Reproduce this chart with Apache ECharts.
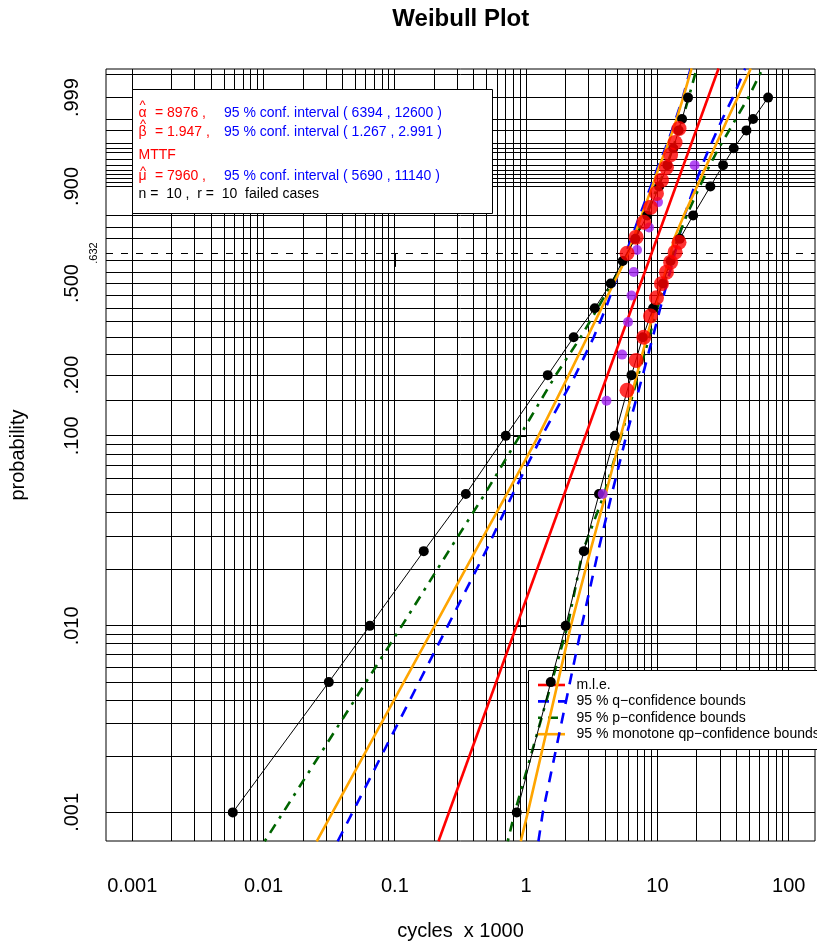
<!DOCTYPE html>
<html>
<head>
<meta charset="utf-8">
<title>Weibull Plot</title>
<script src="https://cdn.jsdelivr.net/npm/echarts@6.0.0/dist/echarts.min.js"></script>
<style>
  html, body { margin: 0; padding: 0; background: #fff; }
  #chart { width: 817px; height: 951px; }
</style>
</head>
<body>
<div id="chart"></div>
<script>
const FONT = '"Liberation Sans", Arial, Helvetica, sans-serif';

// axis ticks (cycles x 1000 / probability)
const xTickValues = [0.001, 0.01, 0.1, 1, 10, 100];
const xTickLabels = ['0.001', '0.01', '0.1', '1', '10', '100'];
const yTickValues = [0.001, 0.01, 0.1, 0.2, 0.5, 0.9, 0.99, 0.999];
const yTickLabels = ['.001', '.010', '.100', '.200', '.500', '.900', '', '.999'];

// grid lines
const xGridDecades = [0.001, 0.01, 0.1, 1, 10, 100];
const xGridSteps = [1, 2, 3, 4, 5, 6, 7, 8, 9];
const yGridProbs = [
  0.001, 0.002, 0.003, 0.004, 0.005, 0.006, 0.007, 0.008, 0.009,
  0.01, 0.02, 0.03, 0.04, 0.05, 0.06, 0.07, 0.08, 0.09,
  0.1, 0.15, 0.2, 0.25, 0.3, 0.35, 0.4, 0.45, 0.5, 0.55, 0.6,
  0.7, 0.75, 0.8, 0.9, 0.91, 0.92, 0.93, 0.94, 0.95, 0.96, 0.97,
  0.975, 0.98, 0.99, 0.995, 0.999, 0.9999
];
const charLifeProb = 0.632;

// failure data (purple)
const failCycles = [3.83, 4.09, 5.38, 5.97, 6.34, 6.60, 6.99, 8.63, 10.1, 19.2];
const failProbs = [0.05, 0.15, 0.25, 0.35, 0.45, 0.55, 0.65, 0.75, 0.85, 0.95];

// black point chains
const chainProbs = [0.001, 0.005, 0.01, 0.025, 0.05, 0.1, 0.2, 0.3, 0.4, 0.5, 0.6, 0.7, 0.8, 0.9, 0.95, 0.975, 0.99, 0.995, 0.999];
const chainLower = [0.00583, 0.0314, 0.0644, 0.166, 0.347, 0.699, 1.46, 2.30, 3.33, 4.41, 5.44, 6.78, 8.36, 10.3, 11.9, 13.2, 14.5, 15.4, 17.1];
const chainUpper = [0.848, 1.54, 2.00, 2.75, 3.59, 4.73, 6.34, 7.73, 9.26, 11.0, 12.6, 14.8, 18.7, 25.3, 31.6, 38.1, 47.6, 53.5, 69.6];

// red points
const redCycles = [5.87, 6.88, 7.87, 8.85, 9.83, 10.73, 11.71, 12.6, 13.63, 14.60];
const redProbsHigh = [0.635, 0.7075, 0.772, 0.831, 0.879, 0.917, 0.9455, 0.967, 0.981, 0.991];
const redProbsLow = [0.169, 0.235, 0.300, 0.371, 0.441, 0.499, 0.5495, 0.5945, 0.640, 0.685];

// m.l.e. line
const mleProbs = [0.0007, 0.99995];
const mleCycles = [0.215, 29.2];

// confidence bounds
const boundProbs = [0.0007, 0.001, 0.01, 0.025, 0.05, 0.1, 0.2, 0.3, 0.4, 0.5, 0.6, 0.7, 0.8, 0.9, 0.95, 0.975, 0.99, 0.995, 0.999, 0.99995];
const qLower = [0.0367, 0.0476, 0.253, 0.493, 0.790, 1.32, 2.37, 3.27, 4.04, 4.73, 5.44, 6.32, 7.33, 8.89, 10.2, 11.5, 12.9, 13.8, 15.6, 17.9];
const qUpper = [1.24, 1.34, 2.65, 3.54, 4.49, 5.79, 7.73, 9.21, 10.5, 11.8, 13.1, 14.5, 16.1, 19.1, 21.9, 24.8, 28.5, 31.2, 37.5, 46.6];
const pLower = [0.0102, 0.0141, 0.113, 0.257, 0.484, 0.894, 1.68, 2.60, 3.51, 4.49, 5.54, 6.72, 8.14, 10.1, 11.8, 13.1, 14.5, 15.5, 17.3, 19.9];
const pUpper = [0.724, 0.819, 2.07, 2.70, 3.93, 5.30, 7.14, 8.66, 9.97, 11.3, 12.6, 14.2, 16.7, 21.0, 25.0, 29.3, 35.2, 39.5, 49.2, 63.4];
const qpLower = [0.0254, 0.0335, 0.201, 0.410, 0.712, 1.24, 2.11, 2.92, 3.75, 4.64, 5.64, 6.54, 7.59, 9.13, 10.4, 11.7, 13.1, 14.0, 15.7, 18.2];
const qpUpper = [0.910, 1.03, 2.19, 3.08, 4.04, 5.25, 6.96, 8.29, 9.54, 10.8, 12.2, 13.4, 15.9, 20.0, 23.7, 27.1, 31.3, 34.2, 40.8, 51.4];

const legendLabels = ['m.l.e.', '95 % q\u2212confidence bounds', '95 % p\u2212confidence bounds', '95 % monotone qp\u2212confidence bounds'];

// weibull paper transforms
const tx = c => Math.log10(c);
const ty = p => Math.log(-Math.log(1 - p));
const pts = (xs, ps) => xs.map((c, i) => [tx(c), ty(ps[i])]);

const xLim = [tx(0.001), tx(100)];
const yLim = [ty(0.001), ty(0.999)];
const xPad = (xLim[1] - xLim[0]) * 0.04;
const yPad = (yLim[1] - yLim[0]) * 0.04;
const xMin = xLim[0] - xPad, xMax = xLim[1] + xPad;
const yMin = yLim[0] - yPad, yMax = yLim[1] + yPad;

const COL = { red: '#ff0000', blue: '#0000ff', green: '#006400', orange: '#ffa500', purple: '#a020f0' };
const DASH = [11, 9];
const DOTDASH = [3, 7, 10, 7];

// [x, y, kind]: kind 0 = vertical, 1 = horizontal, 2 = dashed horizontal
let gridData = [];
xGridDecades.forEach(d => xGridSteps.forEach(k => {
  const v = tx(k * d);
  if (v <= xMax) gridData.push([v, yMin, 0]);
}));
yGridProbs.forEach(p => gridData.push([xMin, ty(p), 1]));
gridData.push([xMin, ty(charLifeProb), 2]);

function crisp(v) { return Math.round(v - 0.5) + 0.5; }

function lineSeries(name, data, color, type, z) {
  return {
    name: name, type: 'line', data: data, z: z, symbol: 'none', silent: true,
    lineStyle: { color: color, width: 2.6, type: type, cap: 'butt' }
  };
}

let myChart = echarts.init(document.getElementById('chart'), null, { renderer: 'canvas' });

const legendY0 = 685, legendDy = 16.4;
const legendStyles = [
  { color: COL.red, dash: null },
  { color: COL.blue, dash: DASH },
  { color: COL.green, dash: DOTDASH },
  { color: COL.orange, dash: null }
];
let legendEls = [{
  type: 'rect', z: 3, shape: { x: 528.5, y: 670.5, width: 300, height: 79 },
  style: { fill: '#fff', stroke: '#000', lineWidth: 1 }
}];
legendStyles.forEach((s, i) => {
  const y = legendY0 + i * legendDy;
  legendEls.push({
    type: 'line', z: 3, shape: { x1: 538, y1: y, x2: 565, y2: y },
    style: { stroke: s.color, lineWidth: 2.6, lineDash: s.dash }
  });
  legendEls.push({
    type: 'text', z: 3, x: 576.5, y: y,
    style: { text: legendLabels[i], font: '14px ' + FONT, fill: '#000', textAlign: 'left', textVerticalAlign: 'middle' }
  });
});

function txt(x, y, text, color) {
  return {
    type: 'text', z: 11, x: x, y: y,
    style: { text: text, font: '14px ' + FONT, fill: color, textAlign: 'left', textVerticalAlign: 'middle' }
  };
}
function hat(x, y) {
  return {
    type: 'text', z: 11, x: x, y: y,
    style: { text: '^', font: '13px ' + FONT, fill: COL.red, textAlign: 'center', textVerticalAlign: 'top' }
  };
}

const infoEls = [
  { type: 'rect', z: 10, shape: { x: 132.5, y: 89.5, width: 360, height: 124 }, style: { fill: '#fff', stroke: '#000', lineWidth: 1 } },
  txt(138.5, 113.4, '\u03b1', COL.red), hat(142.5, 99.2),
  txt(155, 113.4, '= 8976 ,', COL.red),
  txt(224, 113.4, '95 % conf. interval ( 6394 , 12600 )', COL.blue),
  txt(138.5, 131.8, '\u03b2', COL.red), hat(143, 117.5),
  txt(155, 131.8, '= 1.947 ,', COL.red),
  txt(224, 131.8, '95 % conf. interval ( 1.267 , 2.991 )', COL.blue),
  txt(138.5, 155.1, 'MTTF', COL.red),
  txt(138.5, 175.8, '\u03bc', COL.red), hat(143, 164.8),
  txt(155, 175.8, '= 7960 ,', COL.red),
  txt(224, 175.8, '95 % conf. interval ( 5690 , 11140 )', COL.blue),
  txt(138.5, 194.4, 'n =  10 ,  r =  10  failed cases', '#000')
];

const option = {
  animation: false,
  backgroundColor: '#fff',
  textStyle: { fontFamily: FONT },
  grid: { left: 106, right: 2, top: 69, bottom: 110, show: true, borderColor: '#000', borderWidth: 1, backgroundColor: 'transparent' },
  xAxis: {
    type: 'value', min: xMin, max: xMax,
    splitLine: { show: false }, axisLine: { show: false },
    axisTick: { show: true, length: 13, customValues: xTickValues.map(tx), lineStyle: { color: '#000', width: 1 } },
    axisLabel: {
      customValues: xTickValues.map(tx), margin: 35, fontSize: 20, color: '#000', fontFamily: FONT,
      formatter: v => xTickLabels[xTickValues.findIndex(t => Math.abs(tx(t) - v) < 1e-6)]
    },
    name: 'cycles  x 1000', nameLocation: 'middle', nameGap: 80,
    nameTextStyle: { fontSize: 20, color: '#000', fontFamily: FONT }
  },
  yAxis: {
    type: 'value', min: yMin, max: yMax,
    splitLine: { show: false }, axisLine: { show: false },
    axisTick: { show: true, length: 13, customValues: yTickValues.map(ty), lineStyle: { color: '#000', width: 1 } },
    axisLabel: {
      customValues: yTickValues.map(ty), rotate: 90, margin: 24, fontSize: 20, color: '#000', fontFamily: FONT,
      formatter: v => yTickLabels[yTickValues.findIndex(t => Math.abs(ty(t) - v) < 1e-6)]
    },
    name: 'probability', nameLocation: 'middle', nameGap: 78, nameRotate: 90,
    nameTextStyle: { fontSize: 20, color: '#000', fontFamily: FONT }
  },
  graphic: [
    { type: 'text', z: 11, x: 460.8, y: 19, style: { text: 'Weibull Plot', font: 'bold 24px ' + FONT, fill: '#000', textAlign: 'center', textVerticalAlign: 'middle' } },
    { type: 'text', z: 11, x: 93.5, y: 253, rotation: Math.PI / 2, style: { text: '.632', font: '11px ' + FONT, fill: '#000', textAlign: 'center', textVerticalAlign: 'middle' } }
  ].concat(legendEls, infoEls),
  series: [
    {
      type: 'custom', z: 1, silent: true, data: gridData,
      renderItem: function (params, api) {
        const cs = params.coordSys;
        const kind = api.value(2);
        if (kind === 0) {
          const x = crisp(api.coord([api.value(0), yMin])[0]);
          return { type: 'line', shape: { x1: x, y1: cs.y, x2: x, y2: cs.y + cs.height }, style: { stroke: '#000', lineWidth: 1 } };
        }
        const y = crisp(api.coord([xMin, api.value(1)])[1]);
        return {
          type: 'line', shape: { x1: cs.x, y1: y, x2: cs.x + cs.width, y2: y },
          style: { stroke: '#000', lineWidth: 1, lineDash: kind === 2 ? [7, 8] : null }
        };
      }
    },
    lineSeries('q-lower', pts(qLower, boundProbs), COL.blue, DASH, 5),
    lineSeries('q-upper', pts(qUpper, boundProbs), COL.blue, DASH, 5),
    lineSeries('p-lower', pts(pLower, boundProbs), COL.green, DOTDASH, 5),
    lineSeries('p-upper', pts(pUpper, boundProbs), COL.green, DOTDASH, 5),
    lineSeries('qp-lower', pts(qpLower, boundProbs), COL.orange, 'solid', 5),
    lineSeries('qp-upper', pts(qpUpper, boundProbs), COL.orange, 'solid', 5),
    lineSeries('mle', pts(mleCycles, mleProbs), COL.red, 'solid', 6),
    {
      name: 'chain-lower', type: 'line', z: 7, data: pts(chainLower, chainProbs), silent: true,
      symbol: 'circle', symbolSize: 10, showAllSymbol: true,
      itemStyle: { color: '#000' }, lineStyle: { color: '#000', width: 1 }
    },
    {
      name: 'chain-upper', type: 'line', z: 7, data: pts(chainUpper, chainProbs), silent: true,
      symbol: 'circle', symbolSize: 10, showAllSymbol: true,
      itemStyle: { color: '#000' }, lineStyle: { color: '#000', width: 1 }
    },
    {
      name: 'failures', type: 'scatter', z: 8, data: pts(failCycles, failProbs), silent: true,
      symbol: 'circle', symbolSize: 10, itemStyle: { color: COL.purple }
    },
    {
      name: 'red-high', type: 'scatter', z: 9, data: pts(redCycles, redProbsHigh), silent: true,
      symbol: 'circle', symbolSize: 15, itemStyle: { color: COL.red }
    },
    {
      name: 'red-low', type: 'scatter', z: 9, data: pts(redCycles, redProbsLow), silent: true,
      symbol: 'circle', symbolSize: 15, itemStyle: { color: COL.red }
    }
  ]
};
myChart.setOption(option);
</script>
</body>
</html>
